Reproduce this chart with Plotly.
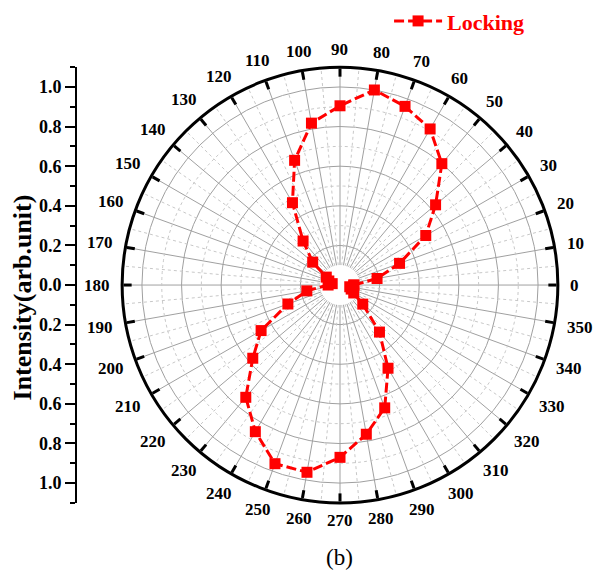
import numpy as np
import plotly.graph_objects as go

# Polarization-angle data (degrees) and normalized intensity
angles = [0, 10, 20, 30, 40, 50, 60, 70, 80, 90, 100, 110, 120, 130, 140, 150, 160, 170,
          180, 190, 200, 210, 220, 230, 240, 250, 260, 270, 280, 290, 300, 310, 320, 330, 340, 350]
intensity = [0.07, 0.19, 0.32, 0.50, 0.63, 0.80, 0.91, 0.96, 1.00, 0.905, 0.83, 0.67, 0.48, 0.29, 0.18, 0.08, 0.06, 0.04,
             0.06, 0.17, 0.28, 0.46, 0.575, 0.74, 0.855, 0.96, 0.96, 0.87, 0.765, 0.66, 0.485, 0.31, 0.15, 0.08, 0.06, 0.05]

angle_ticks = list(range(0, 360, 10))
angle_labels = [str(a) for a in angle_ticks]
radial_major = [0.2, 0.4, 0.6, 0.8, 1.0]
radial_minor = [0.3, 0.5, 0.7, 0.9]
left_ticks = [-1.0, -0.8, -0.6, -0.4, -0.2, 0.0, 0.2, 0.4, 0.6, 0.8, 1.0]
left_ticktext = ["%.1f" % abs(v) for v in left_ticks]

R_MAX = 1.1
HOLE = 0.1
SERIF = "Liberation Serif"
LABEL_SIZE = 17

W, H = 594, 580
cx, cy, rad = 340, 283.5, 219

fig = go.Figure()

circ = np.linspace(0, 360, 181)
white_disk = dict(r=[HOLE] * len(circ), theta=circ, mode="lines", fill="toself",
                  fillcolor="white", line=dict(width=0, color="white"),
                  showlegend=False, hoverinfo="skip")

# inner blank disk
fig.add_trace(go.Scatterpolar(**white_disk))

# dashed minor circles
for rv in radial_minor:
    fig.add_trace(go.Scatterpolar(r=[rv] * len(circ), theta=circ, mode="lines",
                                  line=dict(color="#c8c8c8", width=1, dash="3px,3px"),
                                  showlegend=False, hoverinfo="skip"))

# dashed minor spokes at 5 degrees between the major ones
sp_r, sp_t = [], []
for a in angle_ticks:
    sp_r += [HOLE, R_MAX, None]
    sp_t += [a + 5, a + 5, None]
fig.add_trace(go.Scatterpolar(r=sp_r, theta=sp_t, mode="lines",
                              line=dict(color="#c8c8c8", width=1, dash="3px,3px"),
                              showlegend=False, hoverinfo="skip"))

# white disk drawn again to hide the spokes at the centre
fig.add_trace(go.Scatterpolar(**white_disk))

# measured curve (closed loop)
fig.add_trace(go.Scatterpolar(r=intensity + intensity[:1], theta=angles + angles[:1],
                              mode="lines+markers", name="Locking",
                              line=dict(color="#ff0000", width=3, dash="10px,4px"),
                              marker=dict(symbol="square", size=11, color="#ff0000")))

# empty trace so the left intensity axis is drawn
fig.add_trace(go.Scatter(x=[None], y=[None], mode="markers", showlegend=False,
                         hoverinfo="skip", xaxis="x", yaxis="y"))

# angle labels just outside the rim, centred on each spoke direction
annotations = []
for a, txt in zip(angle_ticks, angle_labels):
    half_w = 0.5 * len(txt) * 0.5 * LABEL_SIZE
    half_h = 0.38 * LABEL_SIZE
    t = np.radians(a)
    dist = rad + 11 + abs(np.cos(t)) * half_w + abs(np.sin(t)) * half_h
    px = cx + dist * np.cos(t)
    py = cy - dist * np.sin(t)
    annotations.append(dict(text=txt, x=px / W, y=1 - py / H, xref="paper", yref="paper",
                            xanchor="center", yanchor="middle", showarrow=False,
                            font=dict(family=SERIF, size=LABEL_SIZE, color="black",
                                      weight="bold")))

annotations += [
    dict(text="Intensity(arb.unit)", textangle=-90, x=22 / W, y=1 - 296 / H,
         xref="paper", yref="paper", xanchor="center", yanchor="middle",
         showarrow=False, font=dict(family=SERIF, size=26, color="black", weight="bold")),
    dict(text="(b)", x=340 / W, y=1 - 557 / H, xref="paper", yref="paper",
         xanchor="center", yanchor="middle",
         showarrow=False, font=dict(family=SERIF, size=23, color="black")),
]

fig.update_layout(
    width=W, height=H,
    margin=dict(l=0, r=0, t=0, b=0),
    paper_bgcolor="white", plot_bgcolor="rgba(0,0,0,0)",
    showlegend=True,
    legend=dict(x=0.655, y=1.005, xanchor="left", yanchor="top", orientation="h",
                font=dict(family=SERIF, size=22, color="#ff0000", weight="bold"),
                bgcolor="rgba(0,0,0,0)", itemwidth=48),
    polar=dict(
        domain=dict(x=[(cx - rad) / W, (cx + rad) / W],
                    y=[1 - (cy + rad) / H, 1 - (cy - rad) / H]),
        bgcolor="white",
        radialaxis=dict(range=[0, R_MAX], tickvals=radial_major, showticklabels=False,
                        ticks="", showline=False, gridcolor="#a0a0a0", gridwidth=1,
                        layer="below traces"),
        angularaxis=dict(rotation=0, direction="counterclockwise",
                         tickmode="array", tickvals=angle_ticks, showticklabels=False,
                         ticks="inside", ticklen=8, tickwidth=2.5, tickcolor="black",
                         showline=True, linecolor="black", linewidth=3,
                         gridcolor="#a0a0a0", gridwidth=1, layer="below traces"),
    ),
    xaxis=dict(visible=False, domain=[0, 0.05], range=[0, 1]),
    yaxis=dict(anchor="free", position=76 / W, side="left",
               domain=[1 - (cy + rad) / H, 1 - (cy - rad) / H],
               range=[-R_MAX, R_MAX], tickmode="array", tickvals=left_ticks,
               ticktext=left_ticktext, ticks="outside", ticklen=10, tickwidth=2,
               tickcolor="black", showline=True, linecolor="black", linewidth=2,
               showgrid=False, zeroline=False,
               minor=dict(dtick=0.1, tick0=0, ticks="outside", ticklen=5, tickwidth=2,
                          tickcolor="black", showgrid=False),
               tickfont=dict(family=SERIF, size=18, color="black", weight="bold")),
    annotations=annotations,
)

fig.write_html("out.html")
